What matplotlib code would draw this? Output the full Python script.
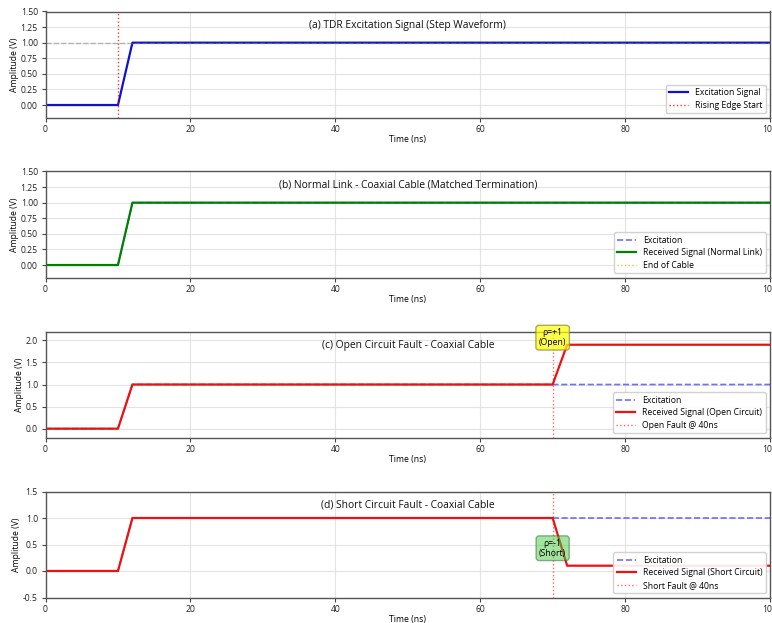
import matplotlib
matplotlib.use("Agg")
import matplotlib.pyplot as plt

plt.rcParams['font.family'] = ['Open Sans', 'DejaVu Sans']

# Piecewise-linear waveform breakpoints (time in ns, amplitude in V)
t_step = [0, 10, 12, 100]
v_excitation = [0, 0, 1.0, 1.0]
v_normal = [0, 0, 1.0, 1.0]

t_fault = [0, 10, 12, 70, 72, 100]
v_open = [0, 0, 1.0, 1.0, 1.9, 1.9]
v_short = [0, 0, 1.0, 1.0, 0.1, 0.1]

rising_edge_t = 10
fault_t = 70
cable_end_t = 130

titles = [
    "(a) TDR Excitation Signal (Step Waveform)",
    "(b) Normal Link - Coaxial Cable (Matched Termination)",
    "(c) Open Circuit Fault - Coaxial Cable",
    "(d) Short Circuit Fault - Coaxial Cable",
]

W, H = 772, 623
fig = plt.figure(figsize=(W / 100, H / 100), dpi=100)

def make_axes(top_px):
    left, right, height = 45.5, 770, 106
    return fig.add_axes([left / W, 1 - (top_px + height) / H, (right - left) / W, height / H])

axes = [make_axes(y) for y in (11.5, 171.5, 331.5, 491.5)]

FS_TICK = 6.2
FS_TITLE = 7.4

def style(ax, title, ylim, yticks, fmt):
    ax.set_xlim(0, 100)
    ax.set_ylim(*ylim)
    ax.set_yticks(yticks)
    ax.set_yticklabels([fmt.format(v) for v in yticks])
    ax.set_xticks([0, 20, 40, 60, 80, 100])
    ax.tick_params(labelsize=FS_TICK, length=3, pad=2.5, color='#444444', labelcolor='#222222')
    ax.grid(True, color='#dddddd', linewidth=0.8, alpha=0.8)
    ax.set_axisbelow(True)
    for s in ax.spines.values():
        s.set_color('#555555')
        s.set_linewidth(1.0)
    ax.set_xlabel("Time (ns)", fontsize=FS_TICK, labelpad=0.5)
    ax.set_ylabel("Amplitude (V)", fontsize=FS_TICK, labelpad=1.5)
    ax.text(0.5, 0.87, title, transform=ax.transAxes, ha='center', va='center',
            fontsize=FS_TITLE, color='#111111')

def legend(ax):
    ax.legend(loc='lower right', fontsize=FS_TICK, framealpha=0.9, edgecolor='#cccccc',
              handlelength=2.2, borderpad=0.4, labelspacing=0.4)

yt_a = [0.0, 0.25, 0.5, 0.75, 1.0, 1.25, 1.5]

# (a) excitation
ax = axes[0]
ax.plot(t_step, v_excitation, color='#1010d0', lw=1.6, label='Excitation Signal')
ax.axvline(rising_edge_t, color='red', ls=':', lw=1.0, alpha=0.8, label='Rising Edge Start')
ax.axhline(1.0, color='gray', ls='--', lw=1.0, alpha=0.5)
style(ax, titles[0], (-0.2, 1.5), yt_a, "{:.2f}")
legend(ax)

# (b) normal link
ax = axes[1]
ax.plot(t_step, v_excitation, color='#3333ff', ls='--', lw=1.2, alpha=0.7, label='Excitation')
ax.plot(t_step, v_normal, color='green', lw=1.6, label='Received Signal (Normal Link)')
ax.axvline(cable_end_t, color='orange', ls=':', lw=1.0, alpha=0.8, label='End of Cable')
style(ax, titles[1], (-0.2, 1.5), yt_a, "{:.2f}")
legend(ax)

# (c) open circuit
ax = axes[2]
ax.plot(t_step, v_excitation, color='#3333ff', ls='--', lw=1.2, alpha=0.7, label='Excitation')
ax.plot(t_fault, v_open, color='#ee1111', lw=1.6, label='Received Signal (Open Circuit)')
ax.axvline(fault_t, color='red', ls=':', lw=1.0, alpha=0.6, label='Open Fault @ 40ns')
style(ax, titles[2], (-0.2, 2.2), [0.0, 0.5, 1.0, 1.5, 2.0], "{:.1f}")
ax.text(fault_t, 2.06, "ρ=+1\n(Open)", ha='center', va='center', fontsize=FS_TICK,
        linespacing=1.1, clip_on=False,
        bbox=dict(boxstyle='round,pad=0.35', facecolor='yellow', edgecolor='#888833', alpha=0.7))
legend(ax)

# (d) short circuit
ax = axes[3]
ax.plot(t_step, v_excitation, color='#3333ff', ls='--', lw=1.2, alpha=0.7, label='Excitation')
ax.plot(t_fault, v_short, color='#ee1111', lw=1.6, label='Received Signal (Short Circuit)')
ax.axvline(fault_t, color='red', ls=':', lw=1.0, alpha=0.6, label='Short Fault @ 40ns')
style(ax, titles[3], (-0.5, 1.5), [-0.5, 0.0, 0.5, 1.0, 1.5], "{:.1f}")
ax.text(fault_t, 0.43, "ρ=-1\n(Short)", ha='center', va='center', fontsize=FS_TICK,
        linespacing=1.1,
        bbox=dict(boxstyle='round,pad=0.35', facecolor='#44cc44', edgecolor='#336633', alpha=0.5))
legend(ax)

fig.savefig("out.png", dpi=100)
